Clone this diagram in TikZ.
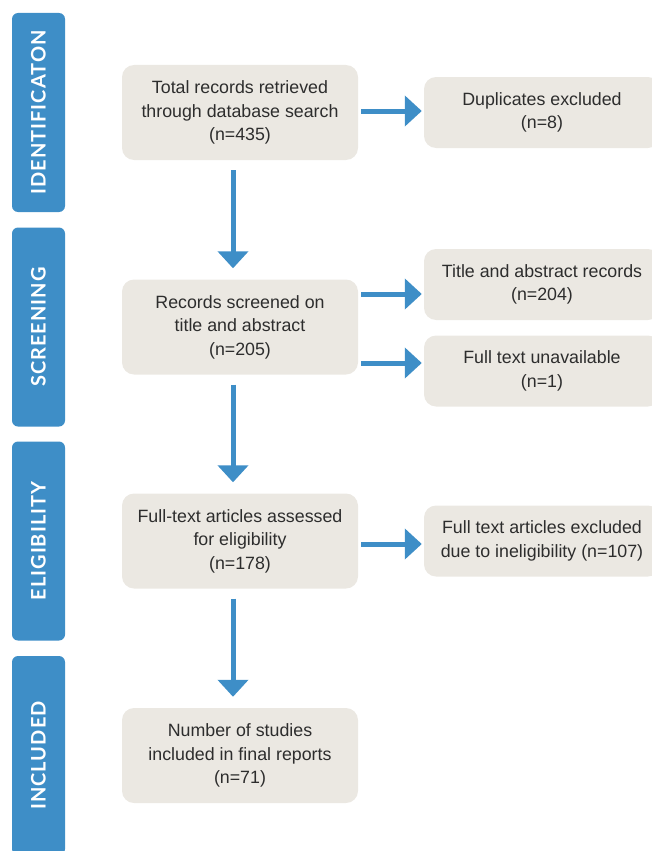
\documentclass[tikz,border=0pt]{standalone}
\usepackage{fontspec}
\setmainfont{Liberation Sans}
\newfontfamily\phasefont[LetterSpace=5]{Lato Bold}
\usetikzlibrary{arrows.meta}

\definecolor{prismablue}{RGB}{62,142,199}
\definecolor{prismabox}{RGB}{235,232,226}
\definecolor{prismatext}{RGB}{45,45,45}

\tikzset{
  phase/.style={fill=prismablue, rounded corners=6pt, rotate=90,
    minimum width=199pt, minimum height=53pt, inner sep=0pt,
    text=white, font=\phasefont\fontsize{20}{20}\selectfont},
  stepbox/.style={fill=prismabox, rounded corners=12pt, align=center,
    minimum width=236pt, minimum height=95pt, inner sep=0pt,
    text=prismatext, font=\fontsize{17.8}{23.5}\selectfont},
  sidebox/.style={stepbox, minimum height=71pt},
  flow/.style={draw=prismablue, line width=5pt,
    -{Triangle[width=30pt,length=17pt]}, prismablue}
}

\begin{document}
\begin{tikzpicture}[x=1pt,y=1pt,yscale=-1]
\useasboundingbox (0,0) rectangle (652,851);

% Phase bars
\node[phase] (ident) at (38.5,112.5) {IDENTIFICATON};
\node[phase] (screening) at (38.5,327) {SCREENING};
\node[phase] (elig) at (38.5,541) {ELIGIBILITY};
\node[phase] (incl) at (38.5,755.5) {INCLUDED};

% Main column
\node[stepbox] (total) at (240,112.5) {Total records retrieved\\through database search\\(n=435)};
\node[stepbox] (screen) at (240,327) {Records screened on\\title and abstract\\(n=205)};
\node[stepbox] (full) at (240,541) {Full-text articles assessed\\for eligibility\\(n=178)};
\node[stepbox] (final) at (240,755.5) {Number of studies\\included in final reports\\(n=71)};

% Excluded column
\node[sidebox] (dup) at (542,112.5) {Duplicates excluded\\(n=8)};
\node[sidebox] (title) at (542,284.5) {Title and abstract records\\(n=204)};
\node[sidebox] (unavail) at (542,371) {Full text unavailable\\(n=1)};
\node[sidebox] (inelig) at (542,541) {Full text articles excluded\\due to ineligibility (n=107)};

% Vertical arrows
\draw[flow, shorten <=10pt, shorten >=11pt] ([xshift=-7pt]total.south) -- ([xshift=-7pt]screen.north);
\draw[flow, shorten <=10pt, shorten >=11pt] ([xshift=-7pt]screen.south) -- ([xshift=-7pt]full.north);
\draw[flow, shorten <=10pt, shorten >=11pt] ([xshift=-7pt]full.south) -- ([xshift=-7pt]final.north);

% Horizontal arrows
\draw[flow, shorten <=3pt, shorten >=2pt] ([yshift=-1.5pt]total.east) -- ([yshift=-1.5pt]dup.west);
\draw[flow, shorten <=3pt, shorten >=2pt] (screen.east |- 0,294) -- (title.west |- 0,294);
\draw[flow, shorten <=3pt, shorten >=2pt] (screen.east |- 0,363) -- (unavail.west |- 0,363);
\draw[flow, shorten <=3pt, shorten >=2pt] ([yshift=3pt]full.east) -- ([yshift=3pt]inelig.west);

\end{tikzpicture}
\end{document}
